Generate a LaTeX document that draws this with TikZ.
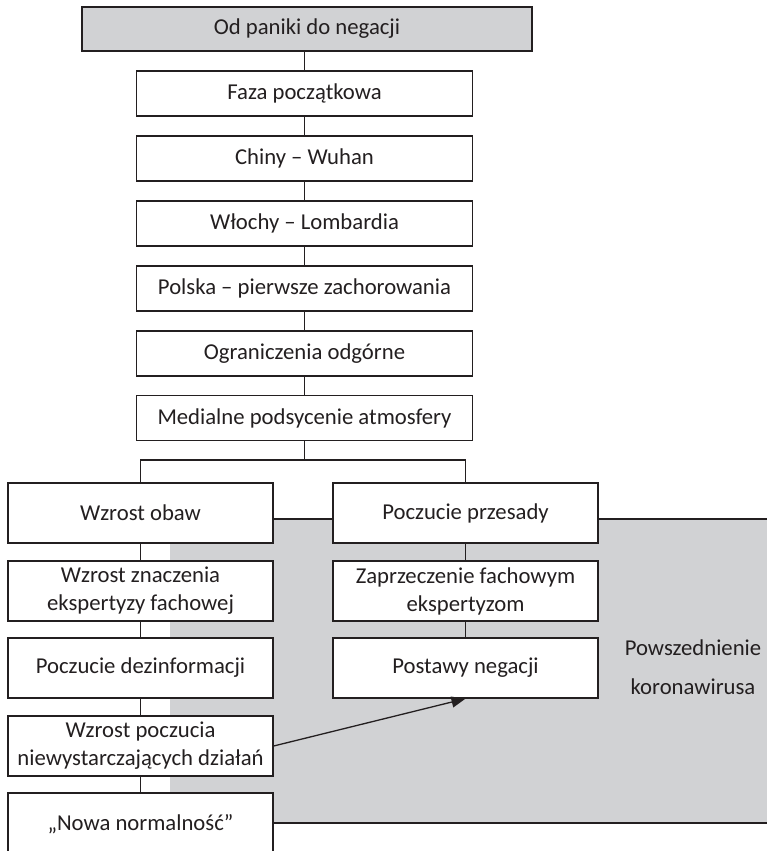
\documentclass[tikz,border=0pt]{standalone}
\usepackage{fontspec}
\setmainfont{Carlito}
\usetikzlibrary{arrows.meta}
\definecolor{lineC}{HTML}{231F20}
\definecolor{fillC}{HTML}{D1D2D4}
\tikzset{
  box/.style={draw=lineC, line width=1.3pt, fill=white, rectangle, inner sep=0pt,
    align=center, font=\fontsize{22.7}{28}\selectfont, text=lineC},
  midbox/.style={box, minimum width=336pt, minimum height=45pt},
  sidebox/.style={box, minimum width=265pt, minimum height=60pt},
  titlebox/.style={box, fill=fillC, minimum width=450pt, minimum height=44pt},
  conn/.style={draw=lineC, line width=1.3pt},
  arr/.style={draw=lineC, line width=1.3pt, -{Triangle[length=14pt,width=11pt]}},
}
\begin{document}
\begin{tikzpicture}[x=1pt,y=-1pt]
\useasboundingbox (0,0) rectangle (767,851);
% gray background region
\fill[fillC] (170,519) rectangle (780,823);
\draw[conn] (170,519) -- (780,519);
\draw[conn] (170,823) -- (780,823);
\node[lineC, align=center, font=\fontsize{22.7}{39}\selectfont] (pow) at (693,667) {Powszednienie\\koronawirusa};
% central chain
\node[titlebox] (t) at (307,29) {Od paniki do negacji};
\node[midbox] (a1) at (304.5,93.5) {Faza początkowa};
\node[midbox] (a2) at (304.5,158.5) {Chiny – Wuhan};
\node[midbox] (a3) at (304.5,223.5) {Włochy – Lombardia};
\node[midbox] (a4) at (304.5,288.5) {Polska – pierwsze zachorowania};
\node[midbox] (a5) at (304.5,353.5) {Ograniczenia odgórne};
\node[midbox] (a6) at (304.5,418) {Medialne podsycenie atmosfery};
% left column
\node[sidebox] (l1) at (140.5,513) {Wzrost obaw};
\node[sidebox] (l2) at (140.5,591) {Wzrost znaczenia\\ekspertyzy fachowej};
\node[sidebox] (l3) at (140.5,668) {Poczucie dezinformacji};
\node[sidebox] (l4) at (140.5,746) {Wzrost poczucia\\niewystarczających działań};
\node[sidebox, minimum height=62pt] (l5) at (140.5,824) {„Nowa normalność”};
% right column
\node[sidebox] (r1) at (465.5,513) {Poczucie przesady};
\node[sidebox] (r2) at (465.5,591) {Zaprzeczenie fachowym\\ekspertyzom};
\node[sidebox] (r3) at (465.5,668) {Postawy negacji};
% connectors
\coordinate (bj) at (a6.south |- 0,460);
\draw[conn] (t.south -| a1.north) -- (a1.north);
\draw[conn] (a1) -- (a2);
\draw[conn] (a2) -- (a3);
\draw[conn] (a3) -- (a4);
\draw[conn] (a4) -- (a5);
\draw[conn] (a5) -- (a6);
\draw[conn] (a6.south) -- (bj);
\draw[conn] (l1.north) |- (bj) -| (r1.north);
\draw[conn] (l1) -- (l2);
\draw[conn] (l2) -- (l3);
\draw[conn] (l3) -- (l4);
\draw[conn] (l4) -- (l5);
\draw[conn] (r1) -- (r2);
\draw[conn] (r2) -- (r3);
\draw[arr] (l4.east) -- (r3.south);
\end{tikzpicture}
\end{document}
